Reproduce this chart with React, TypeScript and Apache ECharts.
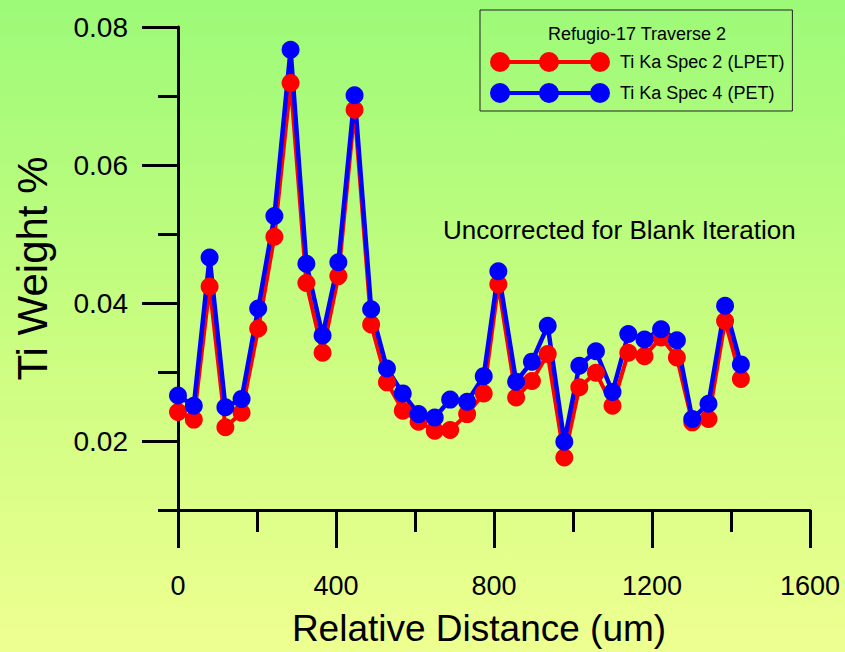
import React, { useEffect, useRef } from "react";
import * as echarts from "echarts";

// Relative distance (um) of each analysis point
const distances = [
  0, 40, 80, 120, 161, 203, 244, 285, 325, 366, 406, 447, 489, 529, 569, 609, 650, 689,
  732, 774, 811, 856, 896, 936, 978, 1016, 1058, 1100, 1140, 1181, 1223, 1263, 1302, 1343, 1385, 1425,
];

// Ti Ka Spec 2 (LPET)
const spec2 = [
  0.0242, 0.0231, 0.0424, 0.022, 0.0241, 0.0363, 0.0496, 0.0719, 0.0429, 0.0328, 0.0439, 0.068,
  0.0369, 0.0285, 0.0244, 0.0228, 0.0215, 0.0216, 0.0239, 0.0269, 0.0427, 0.0263, 0.0287, 0.0326,
  0.0176, 0.0278, 0.0299, 0.0251, 0.0328, 0.0323, 0.035, 0.0321, 0.0227, 0.0232, 0.0374, 0.029,
];

// Ti Ka Spec 4 (PET)
const spec4 = [
  0.0266, 0.0251, 0.0466, 0.0249, 0.0261, 0.0392, 0.0526, 0.0767, 0.0457, 0.0353, 0.0459, 0.0701,
  0.0391, 0.0305, 0.0269, 0.0239, 0.0234, 0.026, 0.0257, 0.0294, 0.0446, 0.0286, 0.0315, 0.0367,
  0.0199, 0.0309, 0.033, 0.0271, 0.0355, 0.0347, 0.0362, 0.0346, 0.0232, 0.0254, 0.0396, 0.0311,
];

const seriesNames = ["Ti Ka Spec 2 (LPET)", "Ti Ka Spec 4 (PET)"];
const legendTitle = "Refugio-17 Traverse 2";
const note = "Uncorrected for Blank Iteration";
const yMajorTicks = [0.02, 0.04, 0.06, 0.08];
const yMinorTicks = [0.01, 0.03, 0.05, 0.07];

const FONT = "'Liberation Sans', Arial, sans-serif";

const legendIcon =
  "path://M10,8 L110,8 L110,12 L10,12 Z M0,10 A10,10 0 1 1 20,10 A10,10 0 1 1 0,10 Z M49,10 A10,10 0 1 1 69,10 A10,10 0 1 1 49,10 Z M100,10 A10,10 0 1 1 120,10 A10,10 0 1 1 100,10 Z";

export default function App() {
  const ref = useRef<HTMLDivElement>(null);

  useEffect(() => {
    if (!ref.current) return;
    const chart = echarts.init(ref.current, undefined, { renderer: "svg" });
    const pairs = (vals: number[]) => distances.map((d, i) => [d, vals[i]]);
    chart.setOption({
      animation: false,
      backgroundColor: new echarts.graphic.LinearGradient(0, 0, 0, 1, [
        { offset: 0, color: "#9cfa78" },
        { offset: 0.5, color: "#c8fd80" },
        { offset: 1, color: "#eeff90" },
      ]),
      grid: { left: 178, right: 35, top: 27, bottom: 142, containLabel: false },
      title: {
        text: legendTitle,
        left: 548,
        top: 25,
        textStyle: { fontFamily: FONT, fontSize: 18, fontWeight: "normal", color: "#000" },
        padding: 0,
      },
      legend: {
        orient: "vertical",
        left: 480,
        top: 10,
        padding: [42, 8, 8, 10],
        borderColor: "#222",
        borderWidth: 1,
        itemWidth: 120,
        itemHeight: 20,
        itemGap: 11,
        icon: legendIcon,
        itemStyle: { borderWidth: 0 },
        textStyle: { fontFamily: FONT, fontSize: 18, color: "#000", padding: [0, 0, 0, 5] },
        data: seriesNames,
      },
      graphic: [
        {
          type: "text",
          x: 443,
          y: 230,
          style: {
            text: note,
            font: `26px ${FONT}`,
            fill: "#000",
            textVerticalAlign: "middle",
          },
        },
      ],
      xAxis: {
        type: "value",
        min: 0,
        max: 1600,
        interval: 400,
        name: "Relative Distance (um)",
        nameLocation: "middle",
        nameGap: 100,
        nameTextStyle: { fontFamily: FONT, fontSize: 37, color: "#000", padding: [0, 30, 0, 0] },
        axisLine: { show: true, onZero: false, lineStyle: { color: "#000", width: 3 } },
        axisTick: { show: true, length: 38, lineStyle: { color: "#000", width: 3 } },
        minorTick: { show: true, splitNumber: 2, length: 22, lineStyle: { color: "#000", width: 3 } },
        splitLine: { show: false },
        minorSplitLine: { show: false },
        axisLabel: {
          margin: 62,
          fontFamily: FONT,
          fontSize: 27,
          color: "#000",
          formatter: (v: number) => String(v),
        },
      },
      yAxis: [
        {
          type: "value",
          min: 0.01,
          max: 0.08,
          interval: 0.01,
          position: "left",
          name: "Ti Weight %",
          nameLocation: "middle",
          nameRotate: 90,
          nameGap: 125,
          nameTextStyle: { fontFamily: FONT, fontSize: 42, color: "#000" },
          axisLine: { show: true, onZero: false, lineStyle: { color: "#000", width: 3 } },
          axisTick: { show: true, length: 36, customValues: yMajorTicks, lineStyle: { color: "#000", width: 3 } },
          splitLine: { show: false },
          axisLabel: {
            customValues: yMajorTicks,
            margin: 50,
            fontFamily: FONT,
            fontSize: 28,
            color: "#000",
            formatter: (v: number) => v.toFixed(2),
          },
        },
        {
          type: "value",
          min: 0.01,
          max: 0.08,
          interval: 0.01,
          position: "left",
          offset: 0,
          axisLine: { show: false },
          axisTick: { show: true, length: 20, customValues: yMinorTicks, lineStyle: { color: "#000", width: 3 } },
          splitLine: { show: false },
          axisLabel: { show: false },
        },
      ],
      series: [
        {
          name: seriesNames[0],
          type: "line",
          data: pairs(spec2),
          symbol: "circle",
          symbolSize: 18,
          color: "#ff0000",
          lineStyle: { width: 4, color: "#ff0000" },
          itemStyle: { color: "#ff0000" },
        },
        {
          name: seriesNames[1],
          type: "line",
          data: pairs(spec4),
          symbol: "circle",
          symbolSize: 18,
          color: "#0000ff",
          lineStyle: { width: 4.5, color: "#0000ff" },
          itemStyle: { color: "#0000ff" },
        },
      ],
    });
    return () => chart.dispose();
  }, []);

  return (
    <div
      ref={ref}
      style={{ position: "fixed", left: 0, top: 0, width: 845, height: 652 }}
    />
  );
}
